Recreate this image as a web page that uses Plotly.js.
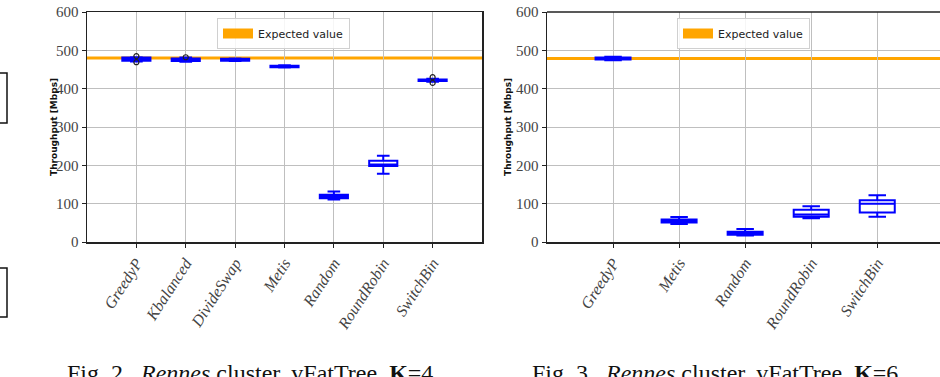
<!DOCTYPE html>
<html>
<head>
<meta charset="utf-8">
<script src="https://cdn.plot.ly/plotly-3.0.1.min.js"></script>
<style>html,body{margin:0;padding:0;background:#fff;}#chart{width:940px;height:377px;}</style>
</head>
<body>
<div id="chart"></div>
<script>
// ---- Data: Fig. 2 (K=4) ----
const categoriesK4 = ['GreedyP','Kbalanced','DivideSwap','Metis','Random','RoundRobin','SwitchBin'];
const lowerK4  = [471, 470, 472, 455, 111, 178, 418];
const q1K4     = [473, 472, 473, 456, 114, 198, 420];
const medianK4 = [477, 475, 475, 458, 118, 202, 422];
const q3K4     = [481, 479, 478, 460, 123, 212, 424];
const upperK4  = [482, 481, 479, 461, 132, 225, 426];
const outlierCatK4 = ['GreedyP','GreedyP','Kbalanced','SwitchBin','SwitchBin'];
const outlierValK4 = [485, 469, 482, 430, 415];

// ---- Data: Fig. 3 (K=6) ----
const categoriesK6 = ['GreedyP','Metis','Random','RoundRobin','SwitchBin'];
const lowerK6  = [474, 47, 17, 62, 66];
const q1K6     = [476, 51, 19, 66, 77];
const medianK6 = [478, 55, 23, 72, 100];
const q3K6     = [481, 59, 27, 84, 109];
const upperK6  = [483, 65, 34, 93, 122];

const expectedK4 = 480;
const expectedK6 = 479;
const legendLabel = 'Expected value';
const yTitle = 'Throughput [Mbps]';
const captionK4 = 'Fig. 2.  <i>Rennes</i> cluster, vFatTree, <b>K</b>=4.';
const captionK6 = 'Fig. 3.  <i>Rennes</i> cluster, vFatTree, <b>K</b>=6.';

const W = 940, H = 377;
const px = v => v / W;
const py = v => 1 - v / H;

const BLUE = '#0000ff';
const ORANGE = '#ffa500';

const traces = [
  {
    type: 'box', x: categoriesK4, q1: q1K4, median: medianK4, q3: q3K4,
    lowerfence: lowerK4, upperfence: upperK4,
    xaxis: 'x', yaxis: 'y', width: 0.57, whiskerwidth: 0.45,
    line: {color: BLUE, width: 2}, fillcolor: 'rgba(255,255,255,0)',
    showlegend: false, hoverinfo: 'skip'
  },
  {
    type: 'scatter', mode: 'markers', x: outlierCatK4, y: outlierValK4,
    xaxis: 'x', yaxis: 'y',
    marker: {symbol: 'circle-open', color: '#222', size: 5, line: {width: 1.2}},
    showlegend: false, hoverinfo: 'skip'
  },
  {
    type: 'box', x: categoriesK6, q1: q1K6, median: medianK6, q3: q3K6,
    lowerfence: lowerK6, upperfence: upperK6,
    xaxis: 'x2', yaxis: 'y2', width: 0.53, whiskerwidth: 0.5,
    line: {color: BLUE, width: 2}, fillcolor: 'rgba(255,255,255,0)',
    showlegend: false, hoverinfo: 'skip'
  },
  // legend entries (patch style)
  {
    type: 'scatter', mode: 'lines', x: [null], y: [null], xaxis: 'x', yaxis: 'y',
    name: legendLabel, legend: 'legend', line: {color: ORANGE, width: 11}, showlegend: true
  },
  {
    type: 'scatter', mode: 'lines', x: [null], y: [null], xaxis: 'x2', yaxis: 'y2',
    name: legendLabel, legend: 'legend2', line: {color: ORANGE, width: 11}, showlegend: true
  }
];

const gridColor = '#bfbfbf';
const axisLine = '#222';
const tickFontX = {family: 'Liberation Serif, DejaVu Serif, serif', size: 16, color: '#444', style: 'italic'};
const tickFontY = {family: 'Liberation Serif, DejaVu Serif, serif', size: 15, color: '#444'};

function xAxis(domain, range, mirror) {
  return {
    domain: domain, type: 'category', range: range, autorange: false,
    showgrid: true, gridcolor: gridColor, gridwidth: 1,
    showline: true, linecolor: axisLine, linewidth: 1.5, mirror: mirror,
    ticks: 'outside', ticklen: 4, tickcolor: axisLine, tickwidth: 1,
    tickangle: -57, tickfont: tickFontX, zeroline: false, fixedrange: true
  };
}
function yAxis(anchor, mirror) {
  return {
    domain: [py(242), py(12)], anchor: anchor, range: [0, 600], autorange: false,
    dtick: 100, tick0: 0,
    showgrid: true, gridcolor: gridColor, gridwidth: 1,
    showline: true, linecolor: axisLine, linewidth: 1.5, mirror: mirror,
    ticks: 'outside', ticklen: 4, tickcolor: axisLine, tickwidth: 1,
    tickfont: tickFontY, zeroline: false, fixedrange: true
  };
}

const legendStyle = (x) => ({
  x: px(x), y: py(18), xanchor: 'left', yanchor: 'top', xref: 'paper', yref: 'paper',
  bgcolor: 'rgba(255,255,255,0.85)', bordercolor: '#d0d0d0', borderwidth: 1,
  font: {family: 'DejaVu Sans, sans-serif', size: 11, color: '#222'},
  itemwidth: 30, tracegroupgap: 0
});

const layout = {
  width: W, height: H,
  margin: {l: 0, r: 0, t: 0, b: 0, pad: 0},
  paper_bgcolor: '#fff', plot_bgcolor: '#fff',
  xaxis: xAxis([px(87), px(482)], [-1, 7], true),
  yaxis: yAxis('x', true),
  xaxis2: xAxis([px(547), 1], [-1, 4.95], false),
  yaxis2: yAxis('x2', false),
  legend: legendStyle(217),
  legend2: legendStyle(677),
  shapes: [
    {type: 'line', xref: 'x domain', yref: 'y', x0: 0, x1: 1, y0: expectedK4, y1: expectedK4,
     line: {color: ORANGE, width: 3}, layer: 'below'},
    {type: 'line', xref: 'x2 domain', yref: 'y2', x0: 0, x1: 1, y0: expectedK6, y1: expectedK6,
     line: {color: ORANGE, width: 3}, layer: 'below'},
    // x2 top spine (mirror is off so that no right spine is drawn)
    {type: 'line', xref: 'paper', yref: 'paper', x0: px(547), x1: 1, y0: py(12), y1: py(12),
     line: {color: axisLine, width: 1.5}},
    // fragments of neighbouring frames at the left edge
    {type: 'rect', xref: 'paper', yref: 'paper', x0: px(-10), x1: px(7), y0: py(123), y1: py(73),
     line: {color: '#111', width: 1.5}},
    {type: 'rect', xref: 'paper', yref: 'paper', x0: px(-10), x1: px(7), y0: py(317), y1: py(268),
     line: {color: '#111', width: 1.5}}
  ],
  annotations: [
    {text: '<b>' + yTitle + '</b>', xref: 'paper', yref: 'paper', x: px(47), y: py(127),
     textangle: -90, showarrow: false, font: {family: 'DejaVu Sans, sans-serif', size: 9, color: '#111'}},
    {text: '<b>' + yTitle + '</b>', xref: 'paper', yref: 'paper', x: px(508), y: py(127),
     textangle: -90, showarrow: false, font: {family: 'DejaVu Sans, sans-serif', size: 9, color: '#111'}},
    {text: captionK4, xref: 'paper', yref: 'paper', x: px(253), y: py(358), xanchor: 'center', yanchor: 'top',
     showarrow: false, font: {family: 'Liberation Serif, serif', size: 24, color: '#111'}},
    {text: captionK6, xref: 'paper', yref: 'paper', x: px(718), y: py(358), xanchor: 'center', yanchor: 'top',
     showarrow: false, font: {family: 'Liberation Serif, serif', size: 24, color: '#111'}}
  ]
};

Plotly.newPlot('chart', traces, layout, {staticPlot: true, displayModeBar: false});
</script>
</body>
</html>
